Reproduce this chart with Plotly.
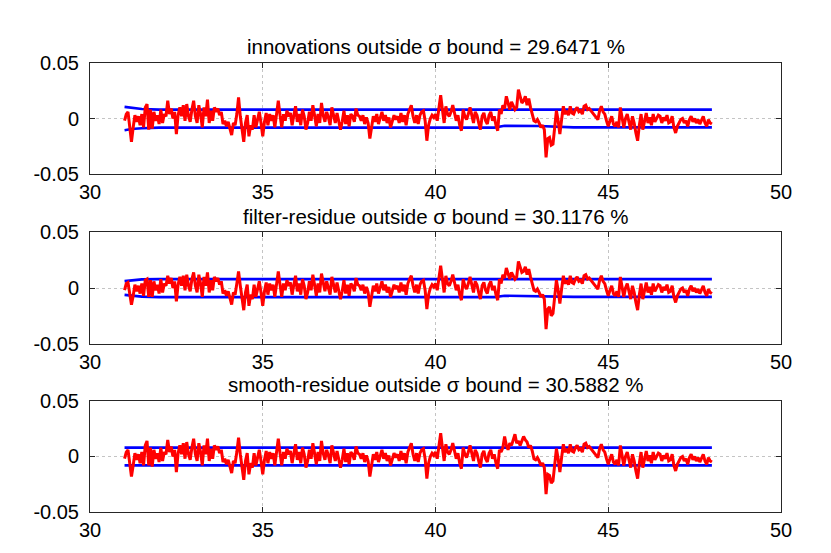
import numpy as np
import plotly.graph_objects as go

# sample times (0.05 spacing from 31 to 48)
t = np.round(np.linspace(31.0, 48.0, 341), 3)

titles = [
    "innovations outside \u03c3 bound = 29.6471 %",
    "filter-residue outside \u03c3 bound = 30.1176 %",
    "smooth-residue outside \u03c3 bound = 30.5882 %",
]

innovations = [
    -0.002, 0.004, 0.006, -0.006, -0.021, -0.008, 0.003, -0.003, 0.002, -0.006, 0.004, -0.008, 0.010, 0.013, -0.010, 0.008, -0.009, 0.006, -0.002, 0.003,
    -0.005, 0.008, -0.004, 0.004, 0.002, 0.016, 0.004, 0.009, 0.000, 0.006, -0.014, 0.003, 0.010, 0.002, 0.012, -0.002, 0.013, 0.002, -0.003, 0.008,
    0.016, 0.002, -0.004, 0.012, 0.004, -0.008, 0.010, 0.002, 0.017, -0.004, 0.007, -0.002, 0.010, 0.006, 0.009, 0.003, 0.006, -0.005, -0.002, -0.007,
    -0.003, -0.009, -0.015, -0.004, -0.006, 0.004, 0.019, 0.002, -0.008, -0.021, -0.004, 0.003, -0.016, -0.006, -0.010, 0.003, -0.008, -0.002, 0.006, -0.004,
    -0.016, -0.003, 0.005, -0.006, 0.004, -0.002, 0.003, -0.008, 0.006, 0.016, 0.003, -0.008, 0.004, -0.002, 0.007, 0.002, 0.005, -0.006, 0.003, 0.011,
    -0.003, 0.004, -0.006, 0.008, 0.002, -0.010, -0.004, 0.006, -0.002, 0.012, 0.003, -0.007, 0.004, -0.004, 0.014, 0.003, -0.003, 0.006, 0.001, -0.006,
    0.010, 0.002, -0.004, 0.005, -0.002, -0.010, -0.003, 0.007, -0.005, 0.003, -0.007, 0.004, 0.002, -0.003, 0.009, 0.003, 0.002, -0.002, 0.003, -0.005,
    0.001, -0.004, -0.018, -0.008, 0.002, -0.003, 0.004, -0.005, 0.001, 0.006, -0.002, 0.003, -0.004, 0.001, -0.008, -0.003, 0.003, -0.001, 0.002, -0.004,
    0.005, -0.003, 0.003, -0.006, 0.004, 0.008, 0.012, 0.002, -0.004, 0.003, -0.005, 0.003, 0.006, 0.007, -0.002, -0.020, -0.006, 0.000, 0.003, 0.001,
    0.004, -0.002, 0.010, 0.021, 0.008, -0.004, 0.011, 0.004, 0.002, 0.006, 0.012, 0.004, -0.002, 0.003, -0.006, -0.011, 0.008, 0.002, -0.001, 0.004,
    0.010, 0.003, -0.004, 0.006, 0.003, -0.004, -0.010, 0.002, 0.005, -0.002, -0.005, 0.003, 0.006, -0.002, 0.002, -0.006, -0.011, 0.008, 0.004, 0.012,
    0.009, 0.020, 0.014, 0.008, 0.015, 0.012, 0.008, 0.010, 0.026, 0.020, 0.014, 0.016, 0.020, 0.012, 0.018, 0.010, 0.005, -0.002, -0.003, -0.001,
    -0.004, -0.008, -0.006, -0.010, -0.035, -0.018, -0.017, -0.024, -0.023, -0.010, 0.007, -0.002, -0.014, -0.001, 0.011, 0.004, 0.007, 0.003, 0.011, 0.005,
    0.004, 0.008, 0.010, 0.006, 0.007, 0.004, 0.011, 0.012, 0.008, 0.009, 0.007, 0.006, 0.004, 0.002, -0.001, 0.007, 0.011, 0.006, 0.004, -0.002,
    -0.007, -0.002, 0.002, -0.005, -0.007, -0.003, -0.008, 0.010, 0.002, -0.008, 0.000, 0.004, -0.003, -0.010, 0.002, -0.004, -0.013, -0.020, -0.006, 0.004,
    -0.010, -0.002, 0.005, -0.004, 0.001, -0.006, 0.004, -0.003, 0.000, 0.003, 0.002, -0.004, 0.001, -0.002, 0.003, -0.004, -0.003, 0.002, -0.008, -0.013,
    -0.007, -0.004, -0.001, 0.000, -0.004, -0.002, -0.007, -0.001, 0.002, -0.003, 0.000, -0.004, -0.001, -0.005, -0.002, 0.002, -0.004, -0.007, -0.001, -0.004,
    -0.005,
]

filter_residue = [
    -0.002, 0.004, 0.005, -0.005, -0.015, -0.007, 0.003, -0.003, 0.002, -0.005, 0.004, -0.007, 0.007, 0.008, -0.008, 0.007, -0.008, 0.006, -0.002, 0.003,
    -0.005, 0.008, -0.004, 0.004, 0.002, 0.011, 0.004, 0.009, 0.000, 0.006, -0.012, 0.003, 0.010, 0.002, 0.011, -0.002, 0.012, 0.002, -0.003, 0.008,
    0.014, 0.002, -0.004, 0.012, 0.004, -0.008, 0.010, 0.002, 0.014, -0.004, 0.007, -0.002, 0.010, 0.006, 0.009, 0.003, 0.006, -0.005, -0.002, -0.007,
    -0.003, -0.009, -0.015, -0.004, -0.006, 0.004, 0.015, 0.002, -0.008, -0.020, -0.004, 0.003, -0.016, -0.006, -0.010, 0.003, -0.008, -0.002, 0.006, -0.004,
    -0.016, -0.003, 0.005, -0.006, 0.004, -0.002, 0.003, -0.008, 0.006, 0.015, 0.003, -0.008, 0.004, -0.002, 0.007, 0.002, 0.005, -0.006, 0.003, 0.011,
    -0.003, 0.004, -0.006, 0.008, 0.002, -0.010, -0.004, 0.006, -0.002, 0.012, 0.003, -0.007, 0.004, -0.004, 0.013, 0.003, -0.003, 0.006, 0.001, -0.006,
    0.010, 0.002, -0.004, 0.005, -0.002, -0.010, -0.003, 0.007, -0.005, 0.003, -0.007, 0.004, 0.002, -0.003, 0.009, 0.003, 0.002, -0.002, 0.003, -0.005,
    0.001, -0.004, -0.017, -0.008, 0.002, -0.003, 0.004, -0.005, 0.001, 0.006, -0.002, 0.003, -0.004, 0.001, -0.008, -0.003, 0.003, -0.001, 0.002, -0.004,
    0.005, -0.003, 0.003, -0.006, 0.004, 0.008, 0.011, 0.002, -0.004, 0.003, -0.005, 0.003, 0.006, 0.007, -0.002, -0.019, -0.006, 0.000, 0.003, 0.001,
    0.004, -0.002, 0.010, 0.020, 0.008, -0.004, 0.011, 0.004, 0.002, 0.006, 0.012, 0.004, -0.002, 0.003, -0.006, -0.011, 0.008, 0.002, -0.001, 0.004,
    0.010, 0.003, -0.004, 0.006, 0.003, -0.004, -0.010, 0.002, 0.005, -0.002, -0.005, 0.003, 0.006, -0.002, 0.002, -0.006, -0.011, 0.008, 0.004, 0.012,
    0.009, 0.018, 0.013, 0.008, 0.014, 0.011, 0.008, 0.010, 0.024, 0.019, 0.014, 0.015, 0.019, 0.012, 0.017, 0.010, 0.005, -0.002, -0.003, -0.001,
    -0.004, -0.008, -0.006, -0.010, -0.037, -0.019, -0.017, -0.025, -0.023, -0.010, 0.007, -0.002, -0.014, -0.001, 0.011, 0.004, 0.007, 0.003, 0.011, 0.005,
    0.004, 0.008, 0.010, 0.006, 0.007, 0.004, 0.011, 0.012, 0.008, 0.009, 0.007, 0.006, 0.004, 0.002, -0.001, 0.007, 0.011, 0.006, 0.004, -0.002,
    -0.007, -0.002, 0.002, -0.005, -0.007, -0.003, -0.008, 0.010, 0.002, -0.008, 0.000, 0.004, -0.003, -0.010, 0.002, -0.004, -0.013, -0.020, -0.006, 0.004,
    -0.010, -0.002, 0.005, -0.004, 0.001, -0.006, 0.004, -0.003, 0.000, 0.003, 0.002, -0.004, 0.001, -0.002, 0.003, -0.004, -0.003, 0.002, -0.008, -0.013,
    -0.007, -0.004, -0.001, 0.000, -0.004, -0.002, -0.007, -0.001, 0.002, -0.003, 0.000, -0.004, -0.001, -0.005, -0.002, 0.002, -0.004, -0.007, -0.001, -0.004,
    -0.005,
]

smooth_residue = [
    -0.002, 0.004, 0.006, -0.006, -0.018, -0.008, 0.003, -0.003, 0.002, -0.006, 0.004, -0.008, 0.010, 0.014, -0.008, 0.008, -0.009, 0.006, -0.002, 0.003,
    -0.005, 0.008, -0.004, 0.004, 0.002, 0.015, 0.004, 0.009, 0.000, 0.006, -0.014, 0.003, 0.010, 0.002, 0.012, -0.002, 0.013, 0.002, -0.003, 0.008,
    0.016, 0.002, -0.004, 0.012, 0.004, -0.008, 0.010, 0.002, 0.016, -0.004, 0.007, -0.002, 0.010, 0.006, 0.009, 0.003, 0.006, -0.005, -0.002, -0.007,
    -0.003, -0.009, -0.015, -0.004, -0.006, 0.004, 0.017, 0.002, -0.008, -0.021, -0.004, 0.003, -0.016, -0.006, -0.010, 0.003, -0.008, -0.002, 0.006, -0.004,
    -0.016, -0.003, 0.005, -0.006, 0.004, -0.002, 0.003, -0.008, 0.006, 0.016, 0.003, -0.008, 0.004, -0.002, 0.007, 0.002, 0.005, -0.006, 0.003, 0.011,
    -0.003, 0.004, -0.006, 0.008, 0.002, -0.010, -0.004, 0.006, -0.002, 0.012, 0.003, -0.007, 0.004, -0.004, 0.014, 0.003, -0.003, 0.006, 0.001, -0.006,
    0.010, 0.002, -0.004, 0.005, -0.002, -0.010, -0.003, 0.007, -0.005, 0.003, -0.007, 0.004, 0.002, -0.003, 0.009, 0.003, 0.002, -0.002, 0.003, -0.005,
    0.001, -0.004, -0.018, -0.008, 0.002, -0.003, 0.004, -0.005, 0.001, 0.006, -0.002, 0.003, -0.004, 0.001, -0.008, -0.003, 0.003, -0.001, 0.002, -0.004,
    0.005, -0.003, 0.003, -0.006, 0.004, 0.008, 0.012, 0.002, -0.004, 0.003, -0.005, 0.003, 0.006, 0.007, -0.002, -0.020, -0.006, 0.000, 0.003, 0.001,
    0.004, -0.002, 0.010, 0.021, 0.008, -0.004, 0.011, 0.004, 0.002, 0.006, 0.012, 0.004, -0.002, 0.003, -0.006, -0.011, 0.008, 0.002, -0.001, 0.004,
    0.010, 0.003, -0.004, 0.006, 0.003, -0.004, -0.010, 0.002, 0.005, -0.002, -0.005, 0.003, 0.006, -0.002, 0.002, -0.006, -0.011, 0.006, 0.004, 0.008,
    0.018, 0.010, 0.006, 0.012, 0.010, 0.015, 0.020, 0.012, 0.014, 0.010, 0.015, 0.018, 0.015, 0.013, 0.008, 0.010, 0.005, -0.002, -0.003, -0.001,
    -0.004, -0.008, -0.006, -0.010, -0.034, -0.016, -0.017, -0.024, -0.022, -0.010, 0.007, -0.002, -0.014, -0.001, 0.011, 0.004, 0.007, 0.003, 0.011, 0.005,
    0.004, 0.008, 0.010, 0.006, 0.007, 0.004, 0.011, 0.012, 0.008, 0.009, 0.007, 0.006, 0.004, 0.002, -0.001, 0.007, 0.011, 0.006, 0.004, -0.002,
    -0.007, -0.002, 0.002, -0.005, -0.007, -0.003, -0.008, 0.010, 0.002, -0.008, 0.000, 0.004, -0.003, -0.010, 0.002, -0.004, -0.013, -0.020, -0.006, 0.004,
    -0.010, -0.002, 0.005, -0.004, 0.001, -0.006, 0.004, -0.003, 0.000, 0.003, 0.002, -0.004, 0.001, -0.002, 0.003, -0.004, -0.003, 0.002, -0.008, -0.013,
    -0.007, -0.004, -0.001, 0.000, -0.004, -0.002, -0.007, -0.001, 0.002, -0.003, 0.000, -0.004, -0.001, -0.005, -0.002, 0.002, -0.004, -0.007, -0.001, -0.004,
    -0.005,
]

# sigma bounds (sampled at break points)
bound_t = [31.0, 31.2, 31.5, 32.0, 41.7, 42.0, 43.0, 43.5, 44.0, 48.0]
upper1 = [0.0105, 0.0095, 0.0086, 0.0080, 0.0080, 0.0084, 0.0084, 0.0080, 0.0080, 0.0080]
lower1 = [-0.0105, -0.0095, -0.0088, -0.0082, -0.0082, -0.0066, -0.0068, -0.0075, -0.0080, -0.0080]
upper2 = [0.0062, 0.0070, 0.0078, 0.0080, 0.0080, 0.0080, 0.0080, 0.0080, 0.0080, 0.0080]
lower2 = [-0.0062, -0.0070, -0.0078, -0.0082, -0.0082, -0.0070, -0.0072, -0.0078, -0.0080, -0.0080]
upper3 = [0.0080, 0.0080, 0.0080, 0.0080, 0.0080, 0.0080, 0.0080, 0.0080, 0.0080, 0.0080]
lower3 = [-0.0080, -0.0080, -0.0080, -0.0080, -0.0080, -0.0080, -0.0080, -0.0080, -0.0080, -0.0080]

x_ticks = [30, 35, 40, 45, 50]
y_ticks = [-0.05, 0, 0.05]
y_ticktext = ["-0.05", "0", "0.05"]

residues = [innovations, filter_residue, smooth_residue]
uppers = [upper1, upper2, upper3]
lowers = [lower1, lower2, lower3]

# page body adds an offset of ~8px; figure sized to compensate
OFF = 8
W, H = 831 - OFF, 553 - OFF
ML, MT = 90 - OFF, 63 - OFF
MR = W - ML - 691
boxes = [(63 - OFF, 175 - OFF), (234 - OFF, 346 - OFF), (404 - OFF, 516 - OFF)]
MB = H - boxes[2][1]
plot_h = H - MT - MB
domains = [[1 - (b - MT) / plot_h, 1 - (a - MT) / plot_h] for a, b in boxes]

FONT = "Liberation Sans, Arial, Helvetica, sans-serif"
fig = go.Figure()

for i in range(3):
    xa = "x" if i == 0 else f"x{i+1}"
    ya = "y" if i == 0 else f"y{i+1}"
    for b in (uppers[i], lowers[i]):
        fig.add_trace(go.Scatter(x=bound_t, y=b, mode="lines",
                                 line=dict(color="#0000ff", width=2.6),
                                 xaxis=xa, yaxis=ya, showlegend=False,
                                 hoverinfo="skip"))
    fig.add_trace(go.Scatter(x=t, y=residues[i], mode="lines",
                             line=dict(color="#ff0000", width=3),
                             xaxis=xa, yaxis=ya, showlegend=False))

axis_common = dict(showline=True, linecolor="#262626", linewidth=1,
                   mirror="ticks", ticks="inside", ticklen=5, tickcolor="#262626",
                   showgrid=True, gridcolor="#c4c4c4", griddash="dot", gridwidth=1,
                   zeroline=False, tickfont=dict(family=FONT, size=20, color="black"))

layout = dict(width=W, height=H, margin=dict(l=ML, r=MR, t=MT, b=MB),
              paper_bgcolor="white", plot_bgcolor="white", showlegend=False)
annotations = []
for i in range(3):
    xk = "xaxis" if i == 0 else f"xaxis{i+1}"
    yk = "yaxis" if i == 0 else f"yaxis{i+1}"
    ya = "y" if i == 0 else f"y{i+1}"
    xa = "x" if i == 0 else f"x{i+1}"
    layout[xk] = dict(domain=[0, 1], range=[30, 50], tickvals=x_ticks,
                      anchor=ya, ticklabelstandoff=0, **axis_common)
    layout[yk] = dict(domain=domains[i], range=[-0.05, 0.05], tickvals=y_ticks,
                      ticktext=y_ticktext, anchor=xa, ticklabelstandoff=6, **axis_common)
    annotations.append(dict(text=titles[i], xref="paper", yref="paper",
                            x=0.5, y=domains[i][1] + 4 / plot_h,
                            xanchor="center", yanchor="bottom", showarrow=False,
                            borderpad=0,
                            font=dict(family=FONT, size=20.5, color="black")))
layout["annotations"] = annotations
fig.update_layout(**layout)

fig.write_html("out.html")
